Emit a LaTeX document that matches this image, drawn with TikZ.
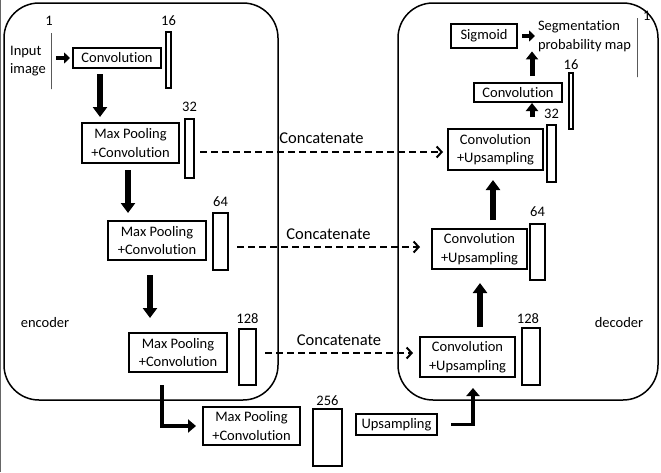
\documentclass[tikz,border=0pt]{standalone}
\usepackage{fontspec}
\setmainfont{Carlito}[Ligatures=NoCommon]
\usetikzlibrary{positioning,arrows.meta}
\tikzset{
    font = \fontsize{14.5}{18.5}\selectfont,
    every node/.style = {
        inner sep = 0pt,
        outer sep = 0pt
    },
    panel/.style = {
        draw,
        line width = 1.5pt,
        rounded corners = 35pt
    },
    block/.style = {
        draw,
        line width = 1.2pt,
        align = center
    },
    layer/.style = {
        draw,
        line width = 1.2pt,
        minimum height = 56pt
    },
    fat/.style = {
        -{Triangle[length=10pt,width=14pt]},
        line width = 6.5pt
    },
    fatsmall/.style = {
        -{Triangle[length=8pt,width=12pt]},
        line width = 5pt
    },
    shortarrow/.style = {
        -{Triangle[length=6pt,width=11pt]},
        line width = 4.5pt,
        shorten < = 5pt,
        shorten > = 3pt
    },
    elbow/.style = {
        -{Triangle[length=8pt,width=13pt]},
        line width = 3.5pt
    },
    concat/.style = {
        -{Straight Barb[length=5pt,width=11pt]},
        line width = 2pt,
        dash pattern = on 7pt off 4pt
    },
    catlabel/.style = {
        font = \fontsize{16.5}{18.5}\selectfont
    }
}

\begin{document}
\begin{tikzpicture}[x=1pt, y=-1pt]
    \useasboundingbox (0,0) rectangle (661,472);
    \draw[line width=0.8pt, black!60] (0.5,0) -- (0.5,472);
    \draw[panel] (4,3) rectangle (278,400);
    \draw[panel] (398,3) rectangle (658,400);

    \node (input) at (28,61) [align=left] {Input\\image};
    \node (l1a) at (51,61) [layer, minimum width=0pt, line width=0.8pt] {};
    \node (n1a) [above=8pt of l1a, xshift=-2pt] {1};

    \node (conv0) at (117,58) [block, minimum width=88pt, minimum height=20pt] {Convolution};
    \node (pool1) at (130.5,143) [block, minimum width=97pt, minimum height=40pt] {Max Pooling\\+Convolution};
    \node (pool2) at (157,240.5) [block, minimum width=98pt, minimum height=39pt] {Max Pooling\\+Convolution};
    \node (pool3) at (178,352.5) [block, minimum width=98pt, minimum height=39pt] {Max Pooling\\+Convolution};
    \node (pool4) at (251.5,426) [block, minimum width=97pt, minimum height=38pt] {Max Pooling\\+Convolution};
    \node (upsamp) at (396.5,424.5) [block, minimum width=81pt, minimum height=21pt] {Upsampling};
    \node (up1) at (467.5,357) [block, minimum width=95pt, minimum height=40pt] {Convolution\\+Upsampling};
    \node (up2) at (479.5,249) [block, minimum width=95pt, minimum height=40pt] {Convolution\\+Upsampling};
    \node (up3) at (495.5,149.5) [block, minimum width=95pt, minimum height=41pt] {Convolution\\+Upsampling};
    \node (conv5) at (518,92.5) [block, minimum width=88pt, minimum height=19pt] {Convolution};
    \node (sigmoid) at (484,36) [block, minimum width=66pt, minimum height=24pt] {Sigmoid};
    \node (segmap) [right=21pt of sigmoid, align=left] {Segmentation\\probability map};
    \node (l1b) at (637,47.5) [layer, minimum width=0pt, minimum height=59pt, line width=0.8pt] {};
    \node (n1b) [anchor=south west] at ([xshift=6pt,yshift=-2pt]l1b.north) {1};

    \node (l16a) at (168.5,60) [layer, minimum width=5pt] {};
    \node (l32a) at (189.5,148.5) [layer, minimum width=9pt, minimum height=59pt] {};
    \node (l64a) at (220.5,241.5) [layer, minimum width=15pt, minimum height=57pt] {};
    \node (l128a) at (247.5,357) [layer, minimum width=17pt] {};
    \node (l256) at (327.5,437.5) [layer, minimum width=29pt, minimum height=57pt] {};
    \node (l128b) at (531,356.5) [layer, minimum width=18pt, minimum height=57pt] {};
    \node (l64b) at (537.5,252) [layer, minimum width=15pt] {};
    \node (l32b) at (551.5,153.5) [layer, minimum width=9pt, minimum height=57pt] {};
    \node (l16b) at (571,101) [layer, minimum width=4pt] {};

    \node (n16a) [above=6pt of l16a] {16};
    \node (n32a) [above=7pt of l32a] {32};
    \node (n64a) [above=6pt of l64a] {64};
    \node (n128a) [above=5pt of l128a] {128};
    \node (n256) [above=3pt of l256] {256};
    \node (n128b) [above=4pt of l128b, xshift=-3pt] {128};
    \node (n64b) [above=7pt of l64b] {64};
    \node (n32b) [above=6pt of l32b] {32};
    \node (n16b) [above=3pt of l16b] {16};

    \node (enc) at (45,323) {encoder};
    \node (dec) at (619,323) {decoder};

    \draw[shortarrow] (l1a.east |- conv0.west) -- (conv0.west);
    \draw[shortarrow] (sigmoid.east) -- (segmap.west |- sigmoid.east);

    \draw[fat, shorten <=6pt, shorten >=6pt] ([xshift=27pt]conv0.south west) -- ([xshift=27pt]conv0.south west |- pool1.north);
    \draw[fat, shorten <=7pt, shorten >=8pt] ([xshift=46pt]pool1.south west) -- ([xshift=46pt]pool1.south west |- pool2.north);
    \draw[fat, shorten <=15pt, shorten >=15pt] ([xshift=42pt]pool2.south west) -- ([xshift=42pt]pool2.south west |- pool3.north);
    \draw[elbow] ([xshift=33pt,yshift=-13pt]pool3.south west) |- ([xshift=-7pt]pool4.west);
    \draw[elbow] ([xshift=14pt]upsamp.east) -| ([xshift=53pt,yshift=-11pt]up1.south west);
    \draw[fat, shorten <=10pt, shorten >=14pt] ([xshift=60pt]up1.north west) -- ([xshift=60pt]up1.north west |- up2.south);
    \draw[fat, shorten <=9pt, shorten >=10pt] ([xshift=61pt]up2.north west) -- ([xshift=61pt]up2.north west |- up3.south);
    \draw[fatsmall, shorten <=12pt, shorten >=1pt] ([xshift=84pt]up3.north west) -- ([xshift=84pt]up3.north west |- conv5.south);
    \draw[fatsmall, shorten <=7pt] ([xshift=58pt]conv5.north west) -- ([xshift=58pt]conv5.north west |- segmap.south);

    \draw[concat] ([xshift=6pt,yshift=-2.5pt]l32a.east |- up3.west) -- ([xshift=-5pt,yshift=-2.5pt]up3.west)
        node[midway, above=8pt, catlabel] (cat1) {Concatenate};
    \draw[concat] ([xshift=9pt,yshift=2pt]l64a.east |- up2.west) -- ([xshift=-12pt,yshift=2pt]up2.west)
        node[midway, above=7pt, catlabel] (cat2) {Concatenate};
    \draw[concat] ([xshift=9pt,yshift=4pt]l128a.east |- up1.west) -- ([xshift=-7pt,yshift=4pt]up1.west)
        node[midway, above=7pt, catlabel] (cat3) {Concatenate};
\end{tikzpicture}
\end{document}
